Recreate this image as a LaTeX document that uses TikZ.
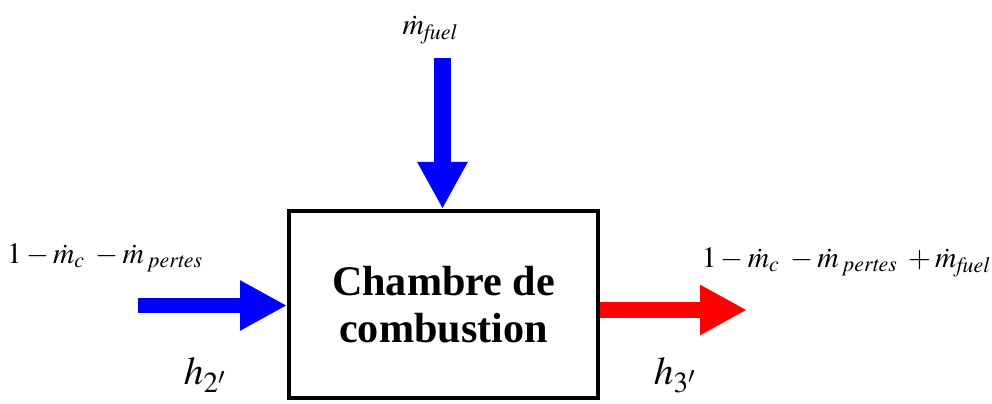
\documentclass[tikz,border=0pt]{standalone}
\usepackage{mathptmx}
\usepackage{fontspec}
\setmainfont{Liberation Serif}
\usetikzlibrary{arrows.meta}

\begin{document}
\begin{tikzpicture}[
    flow/.style={line width=#1, -{Triangle[length=1.175cm,width=1.175cm]}},
    lbl/.style={font=\fontsize{21}{25}\selectfont},
    hlbl/.style={font=\fontsize{28}{32}\selectfont},
    chamberbox/.style={draw, line width=0.1cm, minimum width=7.725cm, minimum height=4.675cm,
        align=center, font=\fontsize{30}{33}\selectfont\bfseries}]
    \useasboundingbox (0,0) rectangle (24.8,10.075);
    % chambre
    \node[chamberbox] (chamber) at (11.0875,2.4625) {Chambre de\\combustion};
    % entrees / sortie
    \coordinate (inL) at (3.45,2.4375);
    \coordinate (inT) at (11.0625,8.625);
    \coordinate (outR) at (18.675,2.325);
    \draw[flow=0.375cm, blue] (inL) -- (inL -| chamber.west);
    \draw[flow=0.425cm, blue] (inT) -- (inT |- chamber.north);
    \draw[flow=0.4cm, red] (outR -| chamber.east) -- (outR);
    % etiquettes
    \node[lbl] (fuel) at (10.75,9.325) {$\dot{m}_{\mathit{fuel}}$};
    \node[lbl] (mleft) at (2.625,3.625) {$1-\dot{m}_c\;-\dot{m}_{\mathit{\;pertes}}$};
    \node[lbl] (mright) at (21.15,3.525) {$1-\dot{m}_c\;-\dot{m}_{\mathit{\;pertes}}\;+\dot{m}_{\mathit{fuel}}$};
    \node[hlbl] (h2) at (5.125,0.7) {$h_{2'}$};
    \node[hlbl] (h3) at (16.875,0.7) {$h_{3'}$};
\end{tikzpicture}
\end{document}
